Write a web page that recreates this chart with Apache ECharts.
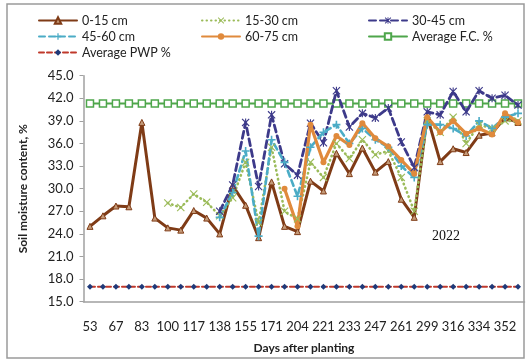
<!DOCTYPE html>
<html>
<head>
<meta charset="utf-8">
<script src="https://cdn.jsdelivr.net/npm/echarts@6/dist/echarts.min.js"></script>
<style>
  html, body { margin: 0; padding: 0; background: #fff; }
  #chart { width: 527px; height: 360px; }
</style>
</head>
<body>
<div id="chart"></div>
<script>
// Sampling days (every other one is labelled on the axis)
const days = ['53','60','67','75','83','91','100','108','117','127','138','146','155','163','171','187','204','212',
              '221','227','233','240','247','254','261','280','299','307','316','325','334','343','352','360'];

// Soil moisture content (%) per depth
const depth0_15  = [25.0, 26.4, 27.7, 27.6, 38.8, 26.1, 24.8, 24.5, 27.1, 26.1, 24.0, 30.4, 27.8, 23.5, 30.9, 25.0, 24.3,
                    31.0, 29.7, 34.7, 32.0, 35.4, 32.2, 33.6, 28.6, 26.2, 39.6, 33.6, 35.3, 34.8, 37.1, 37.4, 39.4, 38.8];
const depth15_30 = [null, null, null, null, null, null, 28.1, 27.5, 29.3, 28.2, 26.4, 28.8, 33.5, 25.5, 35.5, 27.0, 26.0,
                    33.5, 31.5, 36.0, 34.0, 36.5, 34.5, 35.0, 31.5, 27.0, 39.0, 37.5, 39.5, 36.0, 38.5, 38.0, 39.0, 39.0];
const depth30_45 = [null, null, null, null, null, null, null, null, null, null, 27.0, 30.5, 38.8, 30.3, 39.8, 33.3, 31.8,
                    38.7, 36.1, 43.0, 38.2, 40.0, 39.4, 40.7, 36.2, 32.8, 40.2, 39.8, 42.9, 40.2, 43.0, 42.0, 42.4, 41.1];
const depth45_60 = [null, null, null, null, null, null, null, null, null, null, 26.2, 29.5, 35.0, 23.7, 36.5, 33.5, 29.0,
                    35.5, 37.5, 38.5, 36.0, 38.0, 36.5, 35.5, 33.0, 31.5, 38.5, 38.5, 38.0, 37.0, 39.0, 38.0, 39.5, 40.0];
const depth60_75 = [null, null, null, null, null, null, null, null, null, null, null, null, null, null, null, 30.0, 25.0,
                    38.5, 33.5, 37.0, 35.8, 38.7, 36.7, 35.6, 33.8, 32.0, 39.5, 37.5, 39.0, 37.3, 38.0, 37.2, 40.0, 38.8];
const avgFC  = days.map(() => 41.3);
const avgPWP = days.map(() => 17.0);

const yTicks = { min: 15, max: 45, step: 3 };

const FONT = 'Lato, "Open Sans", sans-serif';

const crossSym = 'path://M1,0L5,4L9,0L10,1L6,5L10,9L9,10L5,6L1,10L0,9L4,5L0,1Z';
const starSym  = 'path://M1,0L5,4L9,0L10,1L6,5L10,9L9,10L5,6L1,10L0,9L4,5L0,1Z M4.3,0L5.7,0L5.7,10L4.3,10Z';
const plusSym  = 'path://M4,0L6,0L6,4L10,4L10,6L6,6L6,10L4,10L4,6L0,6L0,4L4,4Z';

const C = {
  d1: '#7f3b16', d2: '#9bbb59', d3: '#3d3a8a', d4: '#4bacc6', d5: '#e08a3c', fc: '#4ea64b', pwpLine: '#c0392b', pwpMark: '#1f3a7a'
};

function lineSeries(name, data, color, width, type, symbol, size, extra) {
  return Object.assign({
    name, type: 'line', data, symbol, symbolSize: size, showAllSymbol: true,
    lineStyle: { color, width, type, cap: 'round' },
    itemStyle: { color },
    emphasis: { disabled: true },
    animation: false
  }, extra || {});
}

const series = [
  lineSeries('Average F.C. %', avgFC, C.fc, 2, 'solid', 'rect', 7,
    { itemStyle: { color: '#ffffff', borderColor: C.fc, borderWidth: 1.5 }, z: 1 }),
  lineSeries('Average PWP %', avgPWP, C.pwpLine, 2, [5, 3], 'diamond', 6,
    { itemStyle: { color: C.pwpMark }, z: 1 }),
  lineSeries('0-15 cm', depth0_15, C.d1, 3, 'solid', 'triangle', 6,
    { itemStyle: { color: '#c49a78', borderColor: C.d1, borderWidth: 1 } }),
  lineSeries('15-30 cm', depth15_30, C.d2, 2.6, [0.5, 4], crossSym, 8),
  lineSeries('30-45 cm', depth30_45, C.d3, 2.8, [7, 4], starSym, 8),
  lineSeries('45-60 cm', depth45_60, C.d4, 2.6, [6, 4], plusSym, 8),
  lineSeries('60-75 cm', depth60_75, C.d5, 3.2, 'solid', 'circle', 6)
];

// Legend laid out in three fixed columns
const legendPos = [
  ['0-15 cm', 33, 9], ['15-30 cm', 196, 9], ['30-45 cm', 363, 9],
  ['45-60 cm', 33, 25], ['60-75 cm', 196, 25], ['Average F.C. %', 363, 25],
  ['Average PWP %', 33, 41]
];
const legends = legendPos.map(([name, left, top]) => ({
  data: [name], left, top, itemWidth: 38, itemHeight: 8, itemGap: 4,
  selectedMode: false,
  textStyle: { fontFamily: FONT, fontSize: 12.5, color: '#222', padding: [0, 0, 0, 0] }
}));

const chart = echarts.init(document.getElementById('chart'), null, { renderer: 'canvas' });
chart.setOption({
  backgroundColor: '#ffffff',
  animation: false,
  legend: legends,
  grid: { left: 83.5, right: 2.5, top: 75.7, bottom: 58.3, containLabel: false },
  xAxis: {
    type: 'category', data: days, boundaryGap: true,
    name: 'Days after planting', nameLocation: 'middle', nameGap: 40,
    nameTextStyle: { fontFamily: FONT, fontSize: 12, fontWeight: 'bold', color: '#222' },
    axisLine: { lineStyle: { color: '#a0a0a0', width: 1.5 } },
    axisTick: { show: false },
    axisLabel: { interval: 1, fontFamily: FONT, fontSize: 13, color: '#222', margin: 19 }
  },
  yAxis: {
    type: 'value', min: yTicks.min, max: yTicks.max, interval: yTicks.step,
    name: 'Soil moisture content, %', nameLocation: 'middle', nameGap: 54,
    nameTextStyle: { fontFamily: FONT, fontSize: 12, fontWeight: 'bold', color: '#222' },
    axisLine: { show: true, lineStyle: { color: '#a0a0a0', width: 1.5 } },
    axisTick: { show: true, length: 4, lineStyle: { color: '#a0a0a0' } },
    splitLine: { show: false },
    axisLabel: { formatter: v => v.toFixed(1), fontFamily: FONT, fontSize: 13, color: '#222', margin: 10 }
  },
  graphic: [
    { type: 'rect', shape: { x: 7, y: 4, width: 517, height: 354 }, style: { fill: 'none', stroke: '#9a9a9a', lineWidth: 1.5 }, silent: true, z: -1 },
    { type: 'text', left: 432, top: 229, style: { text: '2022', fontFamily: '"Liberation Serif", "DejaVu Serif", serif', fontSize: 14, fill: '#111' } }
  ],
  series
});
</script>
</body>
</html>
